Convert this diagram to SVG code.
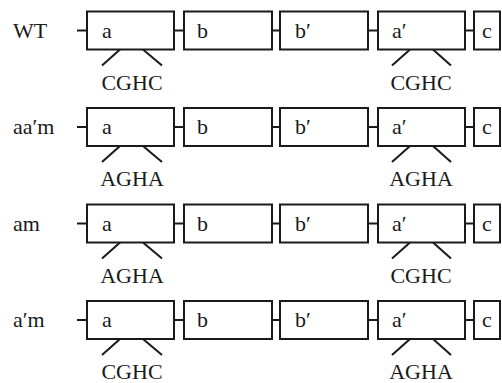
<svg xmlns="http://www.w3.org/2000/svg" width="502" height="383" viewBox="0 0 502 383">
<style>
.bx{fill:#fff;stroke:#1a1a1a;stroke-width:2}
.ln{stroke:#1a1a1a;stroke-width:2;fill:none}
text{font-family:"Liberation Serif","Times New Roman",serif;font-size:22px;fill:#1a1a1a}
.m{text-anchor:middle}
</style>
<defs>
<g id="row">
<rect class="bx" x="87" y="0" width="87" height="38"/>
<rect class="bx" x="184" y="0" width="88" height="38"/>
<rect class="bx" x="280" y="0" width="88" height="38"/>
<rect class="bx" x="378" y="0" width="87" height="38"/>
<rect class="bx" x="474" y="0" width="26" height="38"/>
</g>
</defs>
<g id="connectors">
<g transform="translate(0,11.5)">
<path class="ln" d="M77 19H87M174 19H184M272 19H280M368 19H378M465 19H474M120 38L102 54M143 38L162 54M410 38L392 54M433 38L451 54"/>
</g>
<g transform="translate(0,108)">
<path class="ln" d="M77 19H87M174 19H184M272 19H280M368 19H378M465 19H474M120 38L102 54M143 38L162 54M410 38L392 54M433 38L451 54"/>
</g>
<g transform="translate(0,204.5)">
<path class="ln" d="M77 19H87M174 19H184M272 19H280M368 19H378M465 19H474M120 38L102 54M143 38L162 54M410 38L392 54M433 38L451 54"/>
</g>
<g transform="translate(0,301)">
<path class="ln" d="M77 19H87M174 19H184M272 19H280M368 19H378M465 19H474M120 38L102 54M143 38L162 54M410 38L392 54M433 38L451 54"/>
</g>
</g>
<g id="row-wt" transform="translate(0,11.5)">
<text x="13" y="26">WT</text>
<use href="#row"/>
<g id="wt-a"><text x="102" y="26">a</text></g>
<g id="wt-b"><text x="197" y="26">b</text></g>
<g id="wt-b2"><text x="295" y="26">b′</text></g>
<g id="wt-a2"><text x="392" y="26">a′</text></g>
<g id="wt-c"><text x="482" y="26">c</text></g>
<g id="wt-m1"><text class="m" x="132" y="78">CGHC</text></g>
<g id="wt-m2"><text class="m" x="421" y="78">CGHC</text></g>
</g>
<g id="row-aam" transform="translate(0,108)">
<text x="13" y="26">aa′m</text>
<use href="#row"/>
<g id="aam-a"><text x="102" y="26">a</text></g>
<g id="aam-b"><text x="197" y="26">b</text></g>
<g id="aam-b2"><text x="295" y="26">b′</text></g>
<g id="aam-a2"><text x="392" y="26">a′</text></g>
<g id="aam-c"><text x="482" y="26">c</text></g>
<g id="aam-m1"><text class="m" x="132" y="78">AGHA</text></g>
<g id="aam-m2"><text class="m" x="421" y="78">AGHA</text></g>
</g>
<g id="row-am" transform="translate(0,204.5)">
<text x="13" y="26">am</text>
<use href="#row"/>
<g id="am-a"><text x="102" y="26">a</text></g>
<g id="am-b"><text x="197" y="26">b</text></g>
<g id="am-b2"><text x="295" y="26">b′</text></g>
<g id="am-a2"><text x="392" y="26">a′</text></g>
<g id="am-c"><text x="482" y="26">c</text></g>
<g id="am-m1"><text class="m" x="132" y="78">AGHA</text></g>
<g id="am-m2"><text class="m" x="421" y="78">CGHC</text></g>
</g>
<g id="row-a2m" transform="translate(0,301)">
<text x="13" y="26">a′m</text>
<use href="#row"/>
<g id="a2m-a"><text x="102" y="26">a</text></g>
<g id="a2m-b"><text x="197" y="26">b</text></g>
<g id="a2m-b2"><text x="295" y="26">b′</text></g>
<g id="a2m-a2"><text x="392" y="26">a′</text></g>
<g id="a2m-c"><text x="482" y="26">c</text></g>
<g id="a2m-m1"><text class="m" x="132" y="78">CGHC</text></g>
<g id="a2m-m2"><text class="m" x="421" y="78">AGHA</text></g>
</g>
</svg>
